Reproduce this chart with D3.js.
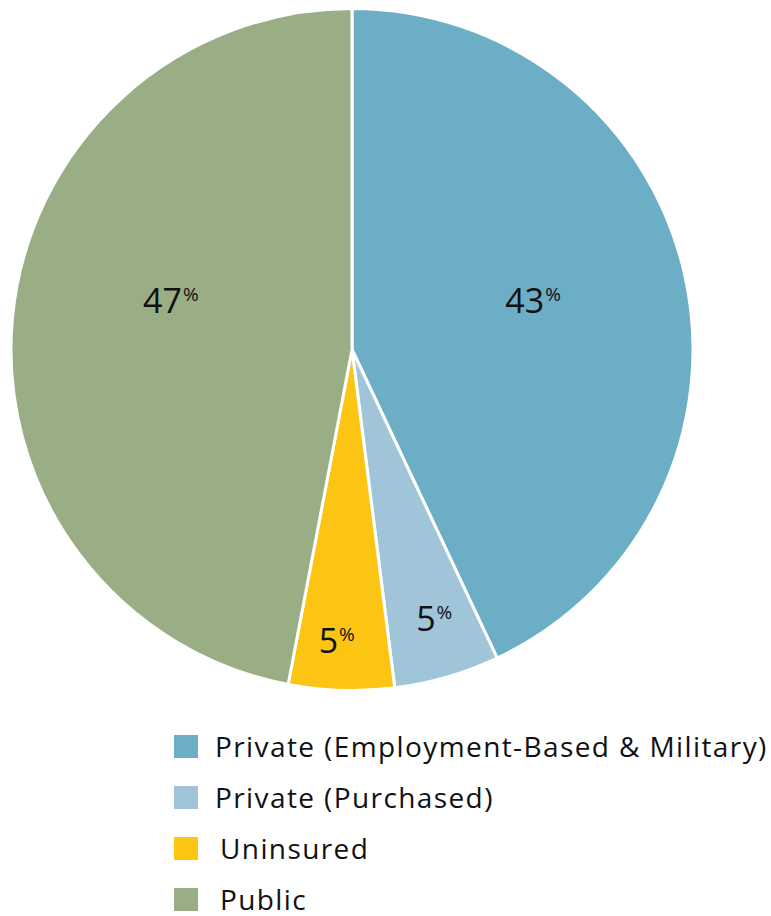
<!DOCTYPE html>
<html>
<head>
<meta charset="utf-8">
<script src="https://cdn.jsdelivr.net/npm/d3@7"></script>
<style>
  body { margin: 0; background: #fff; }
  svg { display: block; font-family: "Open Sans", Lato, sans-serif; }
</style>
</head>
<body>
<svg id="chart" width="771" height="916"></svg>
<script>
// data
var categories = ["Private (Employment-Based & Military)", "Private (Purchased)", "Uninsured", "Public"];
var shares = [43, 5, 5, 47];
var colors = ["#6daec7", "#a1c5d8", "#fdc513", "#9aae86"];

// label placement (angle in degrees clockwise from top, radius as share of pie radius)
var labelAngles = [75, 163, 183, 285];
var labelRadii = [0.55, 0.825, 0.855, 0.55];

var width = 771, height = 916;
var cx = 352, cy = 349.5, radius = 341;

var svg = d3.select("#chart");

var pie = d3.pie().sort(null).value(function(d) { return d; });
var arc = d3.arc().innerRadius(0).outerRadius(radius);

var arcs = pie(shares);

var g = svg.append("g").attr("transform", "translate(" + cx + "," + cy + ")");

g.selectAll("path.slice")
  .data(arcs)
  .enter().append("path")
    .attr("class", "slice")
    .attr("d", arc)
    .attr("fill", function(d, i) { return colors[i]; })
    .attr("stroke", "#fff")
    .attr("stroke-width", 3)
    .attr("stroke-linejoin", "round");

// labels
var labels = g.selectAll("text.lbl")
  .data(arcs)
  .enter().append("text")
    .attr("class", "lbl")
    .attr("transform", function(d, i) {
      var a = labelAngles[i] * Math.PI / 180;
      var r = labelRadii[i] * radius;
      var p = d3.arc().innerRadius(r).outerRadius(r).startAngle(a).endAngle(a).centroid();
      return "translate(" + p[0] + "," + (p[1] + 12) + ")";
    })
    .attr("text-anchor", "middle")
    .attr("fill", "#111")
    .style("font-size", "34px");

labels.append("tspan").text(function(d) { return d.data; });
labels.append("tspan")
  .attr("dy", -12)
  .attr("dx", 1)
  .style("font-size", "19px")
  .text("%");

// legend
var legend = svg.append("g").attr("transform", "translate(174,735)");
var rowH = 51;
var textX = [41, 41, 46, 46];

var items = legend.selectAll("g.item")
  .data(categories)
  .enter().append("g")
    .attr("class", "item")
    .attr("transform", function(d, i) { return "translate(0," + (i * rowH) + ")"; });

items.append("rect")
  .attr("width", 24)
  .attr("height", 23)
  .attr("fill", function(d, i) { return colors[i]; });

items.append("text")
  .attr("x", function(d, i) { return textX[i]; })
  .attr("y", 22)
  .attr("fill", "#111")
  .style("font-size", "28px")
  .style("letter-spacing", "1.4px")
  .text(function(d) { return d; });
</script>
</body>
</html>
